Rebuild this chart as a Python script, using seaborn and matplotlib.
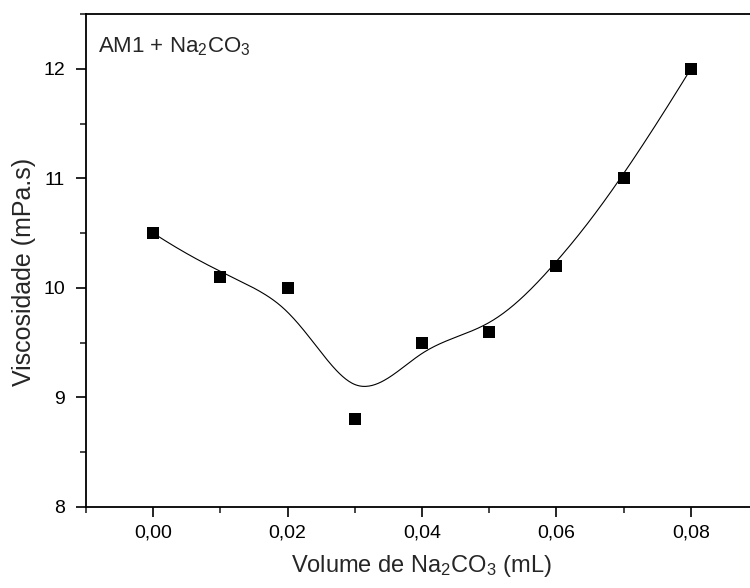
import numpy as np
import pandas as pd
import matplotlib
matplotlib.use("Agg")
import matplotlib.pyplot as plt
import seaborn as sns
from matplotlib.ticker import MultipleLocator, FuncFormatter

# Data
volume = [0.00, 0.01, 0.02, 0.03, 0.04, 0.05, 0.06, 0.07, 0.08]
viscosidade = [10.5, 10.1, 10.0, 8.8, 9.5, 9.6, 10.2, 11.0, 12.0]
x_ticks = [0.00, 0.02, 0.04, 0.06, 0.08]
y_ticks = [8, 9, 10, 11, 12]

sns.set_theme(style="ticks")
plt.rcParams['font.family'] = ['Liberation Sans', 'DejaVu Sans']
plt.rcParams['mathtext.fontset'] = 'custom'
plt.rcParams['mathtext.rm'] = 'Liberation Sans'
plt.rcParams['mathtext.it'] = 'Liberation Sans'


def bspline(px, py, n_out=400, k=3):
    P = np.column_stack([px, py])
    n = len(P)
    inner = np.arange(1, n - k)
    knots = np.concatenate([np.zeros(k + 1), inner, np.full(k + 1, n - k)]).astype(float)
    ts = np.linspace(0, n - k, n_out)
    out = []
    for t in ts:
        N = np.zeros(len(knots) - 1)
        for i in range(len(knots) - 1):
            if knots[i] <= t < knots[i + 1]:
                N[i] = 1.0
        if t >= knots[-1]:
            N[n - 1] = 1.0
        for d in range(1, k + 1):
            Nn = np.zeros(len(knots) - 1 - d)
            for i in range(len(Nn)):
                a = 0.0
                den1 = knots[i + d] - knots[i]
                if den1 > 0:
                    a += (t - knots[i]) / den1 * N[i]
                den2 = knots[i + d + 1] - knots[i + 1]
                if den2 > 0:
                    a += (knots[i + d + 1] - t) / den2 * N[i + 1]
                Nn[i] = a
            N = Nn
        out.append(N[:n] @ P)
    out = np.array(out)
    return out[:, 0], out[:, 1]


cx, cy = bspline(volume, viscosidade)
df_pts = pd.DataFrame({"x": volume, "y": viscosidade})
df_curve = pd.DataFrame({"x": cx, "y": cy})

fig = plt.figure(figsize=(7.5, 5.88), dpi=100)
ax = fig.add_axes([86 / 750, (588 - 506.7) / 588, 672 / 750, 492.5 / 588])

sns.lineplot(data=df_curve, x="x", y="y", ax=ax, color="black", lw=0.8, sort=False,
             estimator=None)
sns.scatterplot(data=df_pts, x="x", y="y", ax=ax, marker="s", s=72, color="black",
                edgecolor="black", linewidth=0, zorder=5)

ax.set_xlim(-0.01, 0.09)
ax.set_ylim(8, 12.5)
ax.set_xticks(x_ticks)
ax.set_yticks(y_ticks)
ax.xaxis.set_minor_locator(MultipleLocator(0.01))
ax.yaxis.set_minor_locator(MultipleLocator(0.5))
ax.xaxis.set_major_formatter(FuncFormatter(lambda v, p: f"{v:.2f}".replace(".", ",")))

for s in ax.spines.values():
    s.set_linewidth(1.3)
    s.set_color("black")

ax.tick_params(axis="both", which="major", length=7, width=1.2, labelsize=14, colors="black")
ax.tick_params(axis="both", which="minor", length=4, width=1.2)
ax.tick_params(axis="y", which="major", pad=8)
ax.tick_params(axis="x", which="major", pad=6)

ax.set_xlabel(r"Volume de Na$_2$CO$_3$ (mL)", fontsize=17, labelpad=8)
ax.set_ylabel("Viscosidade (mPa.s)", fontsize=18, labelpad=5)
ax.yaxis.label.set_y(0.477)

ax.text(0.018, 0.923, r"AM1 + Na$_2$CO$_3$", transform=ax.transAxes, fontsize=16,
        va="baseline", ha="left")

fig.savefig("out.png", dpi=100)
